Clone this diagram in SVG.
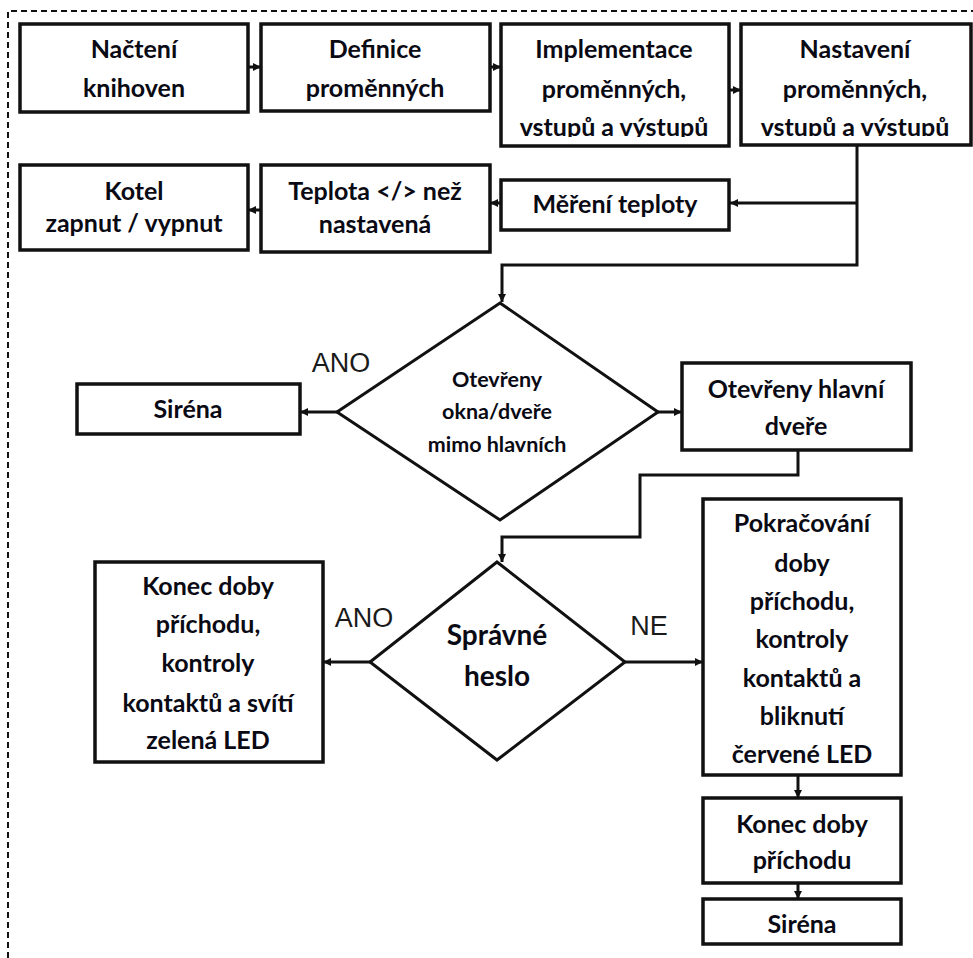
<svg xmlns="http://www.w3.org/2000/svg" width="973" height="958" viewBox="0 0 973 958">
<style>
.box{fill:#fff;stroke:#111;stroke-width:3.5}
.dia{fill:#fff;stroke:#111;stroke-width:3}
.t{font-family:Lato,"Liberation Sans",sans-serif;font-weight:700;font-size:25px;fill:#0a0a14;text-anchor:middle}
.ts{font-size:21.5px}
.tl{font-size:28px}
.lab{font-family:"Liberation Sans",Arial,sans-serif;font-size:27px;fill:#1a1a1a;text-anchor:middle}
.c{fill:none;stroke:#111;stroke-width:3}
.frame{fill:none;stroke:#111;stroke-width:2;stroke-dasharray:6 4}
</style>
<defs>
<marker id="ah" markerUnits="userSpaceOnUse" markerWidth="10" markerHeight="10" refX="8" refY="4" orient="auto">
<path d="M0,0 L8,4 L0,8 z" fill="#111"/>
</marker>
<clipPath id="clip3"><rect x="501" y="24" width="228" height="113"/></clipPath>
<clipPath id="clip4"><rect x="741" y="24" width="230" height="112"/></clipPath>
</defs>
<rect width="973" height="958" fill="#fff"/>
<path class="frame" d="M8,958 V11 H973"/>

<g id="connectors">
<path class="c" d="M248,67 H261" marker-end="url(#ah)"/>
<path class="c" d="M490,67 H501" marker-end="url(#ah)"/>
<path class="c" d="M729,90 H741" marker-end="url(#ah)"/>
<path class="c" d="M857,145 V265 H502 V302" marker-end="url(#ah)"/>
<path class="c" d="M857,203 H730" marker-end="url(#ah)"/>
<path class="c" d="M501,203 H490" marker-end="url(#ah)"/>
<path class="c" d="M261,210 H248" marker-end="url(#ah)"/>
<path class="c" d="M337,412 H300" marker-end="url(#ah)"/>
<path class="c" d="M658,412 H682" marker-end="url(#ah)"/>
<path class="c" d="M798,450 V475 H640 V537 H502 V562" marker-end="url(#ah)"/>
<path class="c" d="M370,662 H323" marker-end="url(#ah)"/>
<path class="c" d="M625,662 H703" marker-end="url(#ah)"/>
<path class="c" d="M798,775 V798" marker-end="url(#ah)"/>
<path class="c" d="M798,883 V899" marker-end="url(#ah)"/>
</g>

<g id="n1"><rect class="box" x="20" y="24" width="228" height="88"/>
<text class="t" x="134" y="58">Načtení</text><text class="t" x="134" y="97">knihoven</text></g>

<g id="n2"><rect class="box" x="261" y="24" width="229" height="87"/>
<text class="t" x="375" y="58">Definice</text><text class="t" x="375" y="97">proměnných</text></g>

<g id="n3"><rect class="box" x="501" y="24" width="228" height="122"/>
<g clip-path="url(#clip3)"><text class="t" x="614" y="58">Implementace</text><text class="t" x="614" y="98">proměnných,</text><text class="t" x="614" y="136">vstupů a výstupů</text></g></g>

<g id="n4"><rect class="box" x="741" y="24" width="230" height="121"/>
<g clip-path="url(#clip4)"><text class="t" x="855" y="58">Nastavení</text><text class="t" x="855" y="98">proměnných,</text><text class="t" x="855" y="136">vstupů a výstupů</text></g></g>

<g id="n5"><rect class="box" x="20" y="165" width="228" height="85"/>
<text class="t" x="134" y="200">Kotel</text><text class="t" x="134" y="232">zapnut / vypnut</text></g>

<g id="n6"><rect class="box" x="261" y="165" width="229" height="87"/>
<text class="t" x="375" y="200">Teplota &lt;/&gt; než</text><text class="t" x="375" y="233">nastavená</text></g>

<g id="n7"><rect class="box" x="501" y="180" width="228" height="50"/>
<text class="t" x="615" y="213">Měření teploty</text></g>

<g id="n8"><polygon class="dia" points="500,303 658,412 500,520 337,412"/>
<text class="t ts" x="497" y="387">Otevřeny</text><text class="t ts" x="497" y="419">okna/dveře</text><text class="t ts" x="497" y="452">mimo hlavních</text></g>

<text class="lab" x="341" y="372">ANO</text>

<g id="n9"><rect class="box" x="77" y="384" width="223" height="50"/>
<text class="t" x="188" y="418">Siréna</text></g>

<g id="n10"><rect class="box" x="682" y="363" width="229" height="87"/>
<text class="t" x="796" y="398">Otevřeny hlavní</text><text class="t" x="796" y="435">dveře</text></g>

<g id="n11"><polygon class="dia" points="497,562 625,662 497,760 370,662"/>
<text class="t tl" x="497" y="645">Správné</text><text class="t tl" x="497" y="686">heslo</text></g>

<text class="lab" x="364" y="627">ANO</text>
<text class="lab" x="649" y="635">NE</text>

<g id="n12"><rect class="box" x="95" y="562" width="228" height="200"/>
<text class="t" x="208" y="595">Konec doby</text><text class="t" x="208" y="633">příchodu,</text><text class="t" x="208" y="672">kontroly</text><text class="t" x="208" y="712">kontaktů  a svítí</text><text class="t" x="208" y="749">zelená LED</text></g>

<g id="n13"><rect class="box" x="703" y="499" width="198" height="276"/>
<text class="t" x="802" y="532">Pokračování</text><text class="t" x="802" y="572">doby</text><text class="t" x="802" y="610">příchodu,</text><text class="t" x="802" y="648">kontroly</text><text class="t" x="802" y="687">kontaktů  a</text><text class="t" x="802" y="725">bliknutí</text><text class="t" x="802" y="763">červené LED</text></g>

<g id="n14"><rect class="box" x="703" y="798" width="198" height="85"/>
<text class="t" x="802" y="833">Konec doby</text><text class="t" x="802" y="869">příchodu</text></g>

<g id="n15"><rect class="box" x="703" y="899" width="198" height="45"/>
<text class="t" x="802" y="933">Siréna</text></g>
</svg>
